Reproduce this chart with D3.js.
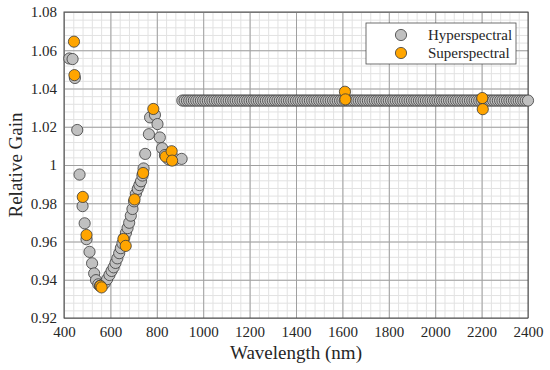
<!DOCTYPE html>
<html>
<head>
<meta charset="utf-8">
<script src="https://cdn.jsdelivr.net/npm/d3@7"></script>
<style>
  body { margin: 0; background: #fff; }
  svg text { font-family: "Liberation Serif", "Times New Roman", Times, "DejaVu Serif", serif !important; fill: #262626; }
</style>
</head>
<body>
<div class="chart"></div>
<script>
// hyperspectral VNIR bands: [wavelength nm, gain]
const hyperVnir = [
  [423, 1.0557], [437, 1.0554], [447, 1.0455], [457, 1.0183], [467, 0.9950],
  [480, 0.9785], [489, 0.9695], [497, 0.9612], [510, 0.9546], [521, 0.9486],
  [530, 0.9433], [538, 0.9398], [548, 0.9376], [555, 0.9368], [566, 0.9372],
  [576, 0.9383], [586, 0.9403], [596, 0.9425], [605, 0.9446], [614, 0.9465],
  [622, 0.9488], [630, 0.9512], [638, 0.9539], [645, 0.9565], [652, 0.9590],
  [660, 0.9620], [667, 0.9645], [674, 0.9670], [681, 0.9698], [688, 0.9735],
  [695, 0.9770], [702, 0.9810], [710, 0.9850], [718, 0.9875], [725, 0.9895],
  [732, 0.9915], [738, 0.9945], [743, 0.9982], [750, 1.0058], [766, 1.0161],
  [771, 1.0249], [792, 1.0262], [803, 1.0214], [813, 1.0144], [823, 1.0088],
  [835, 1.0052], [850, 1.0030], [880, 1.0030], [907, 1.0032]
];
// hyperspectral SWIR bands: flat gain, 10 nm band grid
const hyperSwirBands = d3.range(910, 2401, 10);
const hyperSwirGain = 1.0337;

const superBands = [
  [443, 1.0645], [445, 1.0470], [481, 0.9833], [497, 0.9634], [557, 0.9368],
  [562, 0.9360], [656, 0.9613], [666, 0.9577], [704, 0.9820], [741, 0.9958],
  [785, 1.0293], [838, 1.0044], [864, 1.0072], [866, 1.0023], [1611, 1.0383],
  [1613, 1.0343], [2203, 1.0350], [2205, 1.0292]
];

const xTicks = [400, 600, 800, 1000, 1200, 1400, 1600, 1800, 2000, 2200, 2400];
const yTicks = [0.92, 0.94, 0.96, 0.98, 1, 1.02, 1.04, 1.06, 1.08];
const legendNames = ["Hyperspectral", "Superspectral"];

const width = 550, height = 370;
const margin = {left: 64, right: 22, top: 12, bottom: 52};
const serif = "'Liberation Serif', 'Times New Roman', Times, 'DejaVu Serif', serif";

const svg = d3.select(".chart").append("svg")
  .attr("width", width).attr("height", height)
  .attr("font-family", serif);

const x = d3.scaleLinear().domain([400, 2400]).range([margin.left, width - margin.right]);
const y = d3.scaleLinear().domain([0.92, 1.08]).range([height - margin.bottom, margin.top]);

const plotW = width - margin.left - margin.right,
      plotH = height - margin.top - margin.bottom;

//minor grid
const g = svg.append("g");
g.append("g").attr("transform", `translate(0,${margin.top})`)
  .call(d3.axisBottom(x).tickValues(d3.range(400, 2401, 40)).tickSize(plotH).tickFormat(""))
  .call(a => a.select(".domain").remove())
  .selectAll("line").attr("stroke", "#e2e2e2");
g.append("g").attr("transform", `translate(${margin.left},0)`)
  .call(d3.axisRight(y).tickValues(d3.range(0, 41).map(i => 0.92 + i * 0.004)).tickSize(plotW).tickFormat(""))
  .call(a => a.select(".domain").remove())
  .selectAll("line").attr("stroke", "#e2e2e2");

//major grid
g.append("g").attr("transform", `translate(0,${margin.top})`)
  .call(d3.axisBottom(x).tickValues(xTicks).tickSize(plotH).tickFormat(""))
  .call(a => a.select(".domain").remove())
  .selectAll("line").attr("stroke", "#a0a0a0");
g.append("g").attr("transform", `translate(${margin.left},0)`)
  .call(d3.axisRight(y).tickValues(yTicks).tickSize(plotW).tickFormat(""))
  .call(a => a.select(".domain").remove())
  .selectAll("line").attr("stroke", "#a0a0a0");

//box
svg.append("rect")
  .attr("x", margin.left).attr("y", margin.top)
  .attr("width", plotW).attr("height", plotH)
  .attr("fill", "none").attr("stroke", "#4d4d4d").attr("stroke-width", 1);

//tick labels
const xAxis = svg.append("g").attr("transform", `translate(0,${height - margin.bottom})`)
  .call(d3.axisBottom(x).tickValues(xTicks).tickSize(0).tickPadding(8).tickFormat(d3.format("d")));
xAxis.attr("font-family", serif).attr("font-size", 15);
xAxis.select(".domain").remove();
xAxis.selectAll("text").attr("fill", "#262626");

const yAxis = svg.append("g").attr("transform", `translate(${margin.left},0)`)
  .call(d3.axisLeft(y).tickValues(yTicks).tickSize(0).tickPadding(7).tickFormat(d => d === 1 ? "1" : d3.format(".2f")(d)));
yAxis.attr("font-family", serif).attr("font-size", 15);
yAxis.select(".domain").remove();
yAxis.selectAll("text").attr("fill", "#262626");

//axis titles
svg.append("text")
  .attr("x", x(1400)).attr("y", 359)
  .attr("text-anchor", "middle").attr("font-size", 19)
  .text("Wavelength (nm)");
svg.append("text")
  .attr("transform", `translate(22,${y(1)}) rotate(-90)`)
  .attr("text-anchor", "middle").attr("font-size", 19)
  .text("Relative Gain");

//points
const R = 5.6;
const hyper = hyperVnir.concat(hyperSwirBands.map(w => [w, hyperSwirGain]));
svg.append("g").selectAll("circle").data(hyper).join("circle")
  .attr("cx", d => x(d[0])).attr("cy", d => y(d[1])).attr("r", R)
  .attr("fill", "#c0c0c0").attr("stroke", "#3a3a3a").attr("stroke-width", 0.8);
svg.append("g").selectAll("circle").data(superBands).join("circle")
  .attr("cx", d => x(d[0])).attr("cy", d => y(d[1])).attr("r", R)
  .attr("fill", "#ffa500").attr("stroke", "#3a3a3a").attr("stroke-width", 0.8);

//legend
const lg = svg.append("g");
lg.append("rect").attr("x", 366).attr("y", 23).attr("width", 150).attr("height", 41)
  .attr("fill", "#fff").attr("stroke", "#4d4d4d").attr("stroke-width", 0.8);
const legendColors = ["#c0c0c0", "#ffa500"];
legendNames.forEach((name, i) => {
  const cy = 35 + i * 18;
  lg.append("circle").attr("cx", 401).attr("cy", cy).attr("r", R)
    .attr("fill", legendColors[i]).attr("stroke", "#3a3a3a").attr("stroke-width", 0.8);
  lg.append("text").attr("x", 428).attr("y", cy + 5).attr("font-size", 15).text(name);
});
</script>
</body>
</html>
